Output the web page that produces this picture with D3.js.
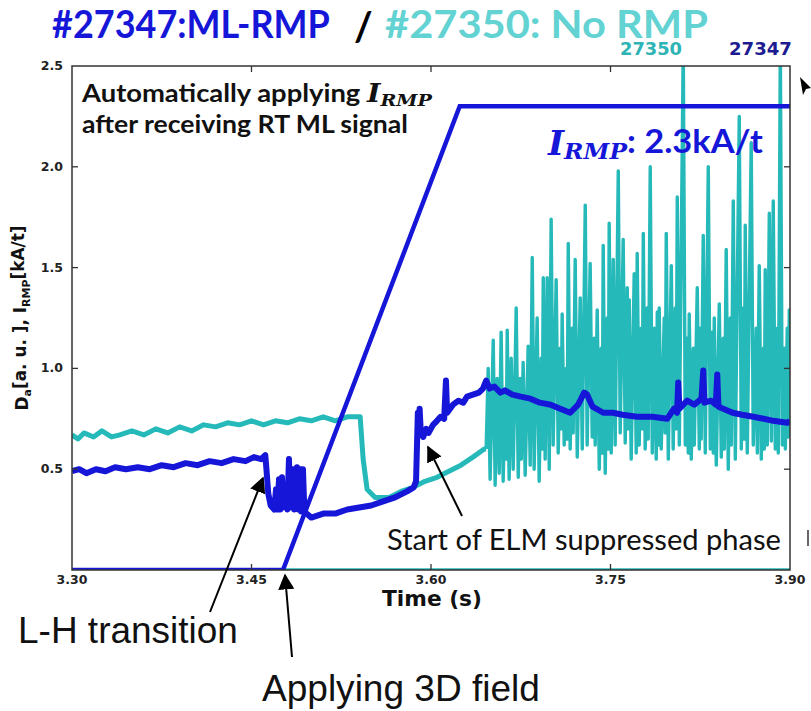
<!DOCTYPE html>
<html>
<head>
<meta charset="utf-8">
<script src="https://d3js.org/d3.v7.min.js"></script>
<style>
  body { margin: 0; background: #fff; }
  svg { display: block; }
</style>
</head>
<body>
<script>
// axis ticks
var xTicks = [3.30, 3.45, 3.60, 3.75, 3.90];
var yTicks = [0.5, 1.0, 1.5, 2.0, 2.5];

// #27347 (ML-RMP) D-alpha
var daBlue = [
  [3.300,0.49],[3.306,0.50],[3.312,0.48],[3.320,0.50],[3.328,0.49],[3.336,0.51],[3.345,0.50],
  [3.355,0.51],[3.365,0.50],[3.375,0.52],[3.385,0.51],[3.395,0.53],[3.405,0.52],[3.415,0.54],
  [3.425,0.53],[3.435,0.55],[3.445,0.54],[3.452,0.56],[3.458,0.55],[3.4615,0.57],[3.4625,0.50],
  [3.4640,0.38],[3.4660,0.32],[3.4690,0.30],[3.4705,0.40],[3.4715,0.30],[3.4730,0.45],[3.4740,0.30],
  [3.4755,0.46],[3.4765,0.31],[3.4790,0.34],[3.4800,0.30],[3.4813,0.55],[3.4825,0.31],[3.4847,0.50],
  [3.4857,0.30],[3.4880,0.51],[3.4890,0.30],[3.4905,0.50],[3.4915,0.29],[3.4930,0.50],[3.4942,0.29],
  [3.4960,0.28],[3.500,0.26],[3.510,0.28],[3.520,0.28],[3.530,0.30],[3.540,0.31],[3.550,0.32],
  [3.560,0.34],[3.570,0.36],[3.580,0.39],[3.5855,0.41],[3.5875,0.44],[3.5890,0.78],[3.5898,0.70],
  [3.5905,0.80],[3.5915,0.68],[3.5935,0.66],[3.596,0.70],[3.598,0.68],[3.6017,0.72],[3.605,0.74],
  [3.608,0.76],[3.611,0.75],[3.6125,0.94],[3.6135,0.78],[3.6184,0.82],[3.623,0.84],[3.627,0.83],
  [3.6301,0.86],[3.635,0.87],[3.640,0.88],[3.6434,0.90],[3.6461,0.94],[3.6490,0.90],[3.6530,0.91],
  [3.6580,0.88],[3.6620,0.89],[3.6680,0.87],[3.6750,0.86],[3.6830,0.85],[3.6910,0.83],[3.7000,0.82],
  [3.7080,0.80],[3.7163,0.78],[3.7230,0.82],[3.7280,0.88],[3.7305,0.87],[3.7350,0.81],[3.7439,0.78],
  [3.7520,0.78],[3.7600,0.77],[3.7723,0.76],[3.7850,0.76],[3.7974,0.75],[3.8030,0.80],[3.8056,0.78],
  [3.8066,0.93],[3.8076,0.80],[3.8141,0.84],[3.8200,0.82],[3.8260,0.85],[3.8275,0.99],[3.8285,0.83],
  [3.8340,0.84],[3.8380,0.82],[3.8392,0.97],[3.8402,0.81],[3.8442,0.80],[3.8520,0.78],[3.8600,0.77],
  [3.8693,0.76],[3.8780,0.75],[3.8860,0.74],[3.8977,0.73],[3.9000,0.74]
];

// #27347 RMP coil current
var irmpBlue = [[3.300,0.0],[3.4763,0.0],[3.6240,2.30],[3.900,2.30]];

// #27350 (no RMP) coil current
var irmpCyan = [[3.300,0.0],[3.900,0.0]];

// #27350 D-alpha, L-mode / quiet part
var daCyanLmode = [
  [3.300,0.67],[3.305,0.65],[3.310,0.68],[3.318,0.66],[3.325,0.69],[3.333,0.66],[3.340,0.67],
  [3.350,0.69],[3.360,0.67],[3.370,0.70],[3.380,0.68],[3.390,0.71],[3.400,0.69],[3.410,0.72],
  [3.420,0.71],[3.430,0.73],[3.440,0.72],[3.450,0.74],[3.460,0.72],[3.470,0.74],[3.480,0.73],
  [3.490,0.75],[3.500,0.74],[3.510,0.76],[3.520,0.74],[3.530,0.76],[3.5408,0.76],[3.5433,0.55],
  [3.5466,0.40],[3.5533,0.36],[3.565,0.36],[3.575,0.39],[3.585,0.41],[3.595,0.44],[3.605,0.46],
  [3.615,0.49],[3.625,0.52],[3.635,0.56],[3.6445,0.60],[3.6461,0.60]
];

// #27350 D-alpha, ELMy phase
var daCyanElm = [
  [3.6461,0.60],[3.6478,1.00],[3.6494,0.45],[3.6520,1.14],[3.6536,0.42],[3.6553,0.95],[3.6570,0.48],
  [3.6586,1.18],[3.6603,0.44],[3.6620,0.90],[3.6628,0.55],[3.6637,1.19],[3.6653,0.45],[3.6670,1.05],
  [3.6687,0.50],[3.6712,1.30],[3.6729,0.46],[3.6745,0.95],[3.6754,0.55],[3.6770,1.03],[3.6787,0.47],
  [3.6812,1.11],[3.6829,0.52],[3.6846,1.55],[3.6862,0.50],[3.6887,1.25],[3.6904,0.44],[3.6921,1.05],
  [3.6929,0.60],[3.6938,1.45],[3.6954,0.55],[3.6971,1.45],[3.6988,0.50],[3.7004,1.74],[3.7021,0.62],
  [3.7046,1.44],[3.7063,0.58],[3.7080,1.10],[3.7088,0.70],[3.7096,1.27],[3.7113,0.62],[3.7130,1.00],
  [3.7138,0.65],[3.7147,1.62],[3.7163,0.60],[3.7180,1.20],[3.7188,0.68],[3.7205,1.54],[3.7222,0.56],
  [3.7247,1.35],[3.7264,0.60],[3.7289,1.81],[3.7305,0.62],[3.7330,1.52],[3.7347,0.66],[3.7364,1.15],
  [3.7372,0.62],[3.7389,1.29],[3.7406,0.50],[3.7422,1.10],[3.7431,0.58],[3.7439,1.61],[3.7456,0.48],
  [3.7473,1.25],[3.7481,0.60],[3.7489,1.72],[3.7506,0.58],[3.7523,1.54],[3.7539,0.62],[3.7565,1.98],
  [3.7581,0.68],[3.7606,1.64],[3.7623,0.63],[3.7640,1.40],[3.7648,0.70],[3.7657,1.34],[3.7673,0.55],
  [3.7698,1.47],[3.7715,0.58],[3.7723,1.57],[3.7740,0.62],[3.7757,1.20],[3.7765,0.70],[3.7774,1.67],
  [3.7790,0.60],[3.7807,1.30],[3.7815,0.65],[3.7832,2.00],[3.7849,0.58],[3.7866,1.20],[3.7882,0.55],
  [3.7891,1.28],[3.7899,0.62],[3.7907,1.30],[3.7924,0.60],[3.7949,1.25],[3.7957,0.68],[3.7966,1.67],
  [3.7983,0.55],[3.8008,1.51],[3.8024,0.60],[3.8041,1.30],[3.8049,0.70],[3.8058,1.85],[3.8075,0.62],
  [3.8108,2.60],[3.8125,0.62],[3.8141,1.15],[3.8150,0.58],[3.8158,1.27],[3.8175,0.55],[3.8192,1.10],
  [3.8200,0.62],[3.8225,1.40],[3.8242,0.60],[3.8250,1.20],[3.8258,0.65],[3.8275,1.66],[3.8292,0.58],
  [3.8317,2.00],[3.8334,0.60],[3.8350,1.18],[3.8359,0.58],[3.8367,1.25],[3.8384,0.52],[3.8409,1.32],
  [3.8426,0.56],[3.8442,1.15],[3.8451,0.60],[3.8467,1.59],[3.8484,0.50],[3.8501,1.25],[3.8509,0.62],
  [3.8526,1.83],[3.8543,0.55],[3.8576,2.25],[3.8593,0.60],[3.8610,1.30],[3.8618,0.65],[3.8626,1.71],
  [3.8643,0.58],[3.8676,2.12],[3.8693,0.62],[3.8718,1.20],[3.8727,0.58],[3.8743,1.51],[3.8760,0.55],
  [3.8777,1.10],[3.8785,0.60],[3.8793,1.49],[3.8810,0.62],[3.8827,1.77],[3.8844,0.64],[3.8860,1.83],
  [3.8877,0.60],[3.8894,1.20],[3.8902,0.58],[3.8919,2.60],[3.8936,0.62],[3.8952,1.10],[3.8961,0.60],
  [3.8977,1.20],[3.8986,0.66],[3.8994,1.29],[3.9000,0.80]
];

var blue = "#1616d8", cyan = "#25b9b9";

var W = 811, H = 711;
var svg = d3.select("body").append("svg").attr("width", W).attr("height", H);

var pL = 72, pR = 790, pT = 66, pB = 570;
var x = d3.scaleLinear().domain([3.30, 3.90]).range([pL, pR]);
var y = d3.scaleLinear().domain([0, 2.5]).range([pB, pT]);

// shrink/grow a text node so it spans w pixels
function fit(t, w) {
  var fs = parseFloat(t.attr("font-size"));
  var l = t.node().getComputedTextLength();
  t.attr("font-size", fs * w / l);
  return t;
}
// keep the font height, squeeze horizontally to w pixels
function squeeze(t, px, py, w) {
  var l = t.node().getComputedTextLength();
  t.attr("transform", "translate(" + px + "," + py + ") scale(" + (w / l) + ",1)");
  return t;
}

svg.append("clipPath").attr("id", "plotClip")
  .append("rect").attr("x", pL).attr("y", pT).attr("width", pR - pL).attr("height", pB - pT);

var line = d3.line().x(function(d){ return x(d[0]); }).y(function(d){ return y(d[1]); });
var g = svg.append("g").attr("clip-path", "url(#plotClip)");

g.append("path").datum(irmpCyan).attr("d", line)
  .attr("fill", "none").attr("stroke", cyan).attr("stroke-width", 3.5);
g.append("path").datum(daCyanLmode).attr("d", line)
  .attr("fill", "none").attr("stroke", cyan).attr("stroke-width", 5).attr("stroke-linejoin", "round");
g.append("path").datum(daCyanElm).attr("d", line)
  .attr("fill", "none").attr("stroke", cyan).attr("stroke-width", 3.4).attr("stroke-linejoin", "round");
g.append("path").datum(irmpBlue).attr("d", line)
  .attr("fill", "none").attr("stroke", blue).attr("stroke-width", 4.5);
g.append("path").datum(daBlue).attr("d", line)
  .attr("fill", "none").attr("stroke", blue).attr("stroke-width", 6).attr("stroke-linejoin", "round");

// frame + inward ticks
svg.append("rect").attr("x", pL).attr("y", pT).attr("width", pR - pL).attr("height", pB - pT)
  .attr("fill", "none").attr("stroke", "#333").attr("stroke-width", 1.5);

xTicks.slice(1, -1).forEach(function(t){
  svg.append("line").attr("x1", x(t)).attr("x2", x(t)).attr("y1", pB).attr("y2", pB - 6).attr("stroke", "#333").attr("stroke-width", 1.3);
  svg.append("line").attr("x1", x(t)).attr("x2", x(t)).attr("y1", pT).attr("y2", pT + 6).attr("stroke", "#333").attr("stroke-width", 1.3);
});
yTicks.slice(0, -1).forEach(function(v){
  svg.append("line").attr("x1", pL).attr("x2", pL + 6).attr("y1", y(v)).attr("y2", y(v)).attr("stroke", "#333").attr("stroke-width", 1.3);
  svg.append("line").attr("x1", pR).attr("x2", pR - 6).attr("y1", y(v)).attr("y2", y(v)).attr("stroke", "#333").attr("stroke-width", 1.3);
});

svg.selectAll(".xl").data(xTicks).enter().append("text")
  .attr("x", function(d){ return x(d); }).attr("y", pB + 14)
  .attr("text-anchor", "middle").attr("font-family", "DejaVu Sans").attr("font-weight", "bold")
  .attr("font-size", 12.5).attr("fill", "#222")
  .text(function(d){ return d.toFixed(2); });
svg.selectAll(".yl").data(yTicks).enter().append("text")
  .attr("x", pL - 9).attr("y", function(d){ return y(d) + 4; })
  .attr("text-anchor", "end").attr("font-family", "DejaVu Sans").attr("font-weight", "bold")
  .attr("font-size", 12.5).attr("fill", "#222")
  .text(function(d){ return d.toFixed(1); });

// axis titles
fit(svg.append("text").attr("x", 432).attr("y", 606).attr("text-anchor", "middle")
  .attr("font-family", "DejaVu Sans").attr("font-weight", "bold").attr("font-size", 15).attr("fill", "#111")
  .text("Time (s)"), 100);

var yl = svg.append("text").attr("transform", "translate(28,318) rotate(-90)").attr("text-anchor", "middle")
  .attr("font-family", "DejaVu Sans").attr("font-weight", "bold").attr("font-size", 14).attr("fill", "#111");
yl.append("tspan").text("D");
yl.append("tspan").attr("dy", "0.3em").style("font-size", "0.65em").text("a");
yl.append("tspan").attr("dy", "-0.3em").text("[a. u. ], I");
yl.append("tspan").attr("dy", "0.3em").style("font-size", "0.65em").text("RMP");
yl.append("tspan").attr("dy", "-0.3em").text("[kA/t]");
fit(yl, 185);

// title (tall glyphs squeezed to the measured width)
squeeze(svg.append("text").attr("font-family", "Lato").attr("font-weight", "bold")
  .attr("font-size", 38.5).attr("fill", blue).text("#27347:ML-RMP"), 52, 37.5, 278);
svg.append("text").attr("x", 354).attr("y", 41).attr("font-family", "Lato").attr("font-weight", "bold")
  .attr("font-size", 40).attr("fill", "#000").text("/");
squeeze(svg.append("text").attr("font-family", "Lato").attr("font-weight", "bold")
  .attr("font-size", 38.5).attr("fill", "#62d2d2").text("#27350: No RMP"), 385, 37.5, 323);

// shot labels
fit(svg.append("text").attr("x", 620).attr("y", 55).attr("font-family", "DejaVu Sans").attr("font-weight", "bold")
  .attr("font-size", 15).attr("fill", "#2eb4b4").text("27350"), 62);
fit(svg.append("text").attr("x", 729).attr("y", 55).attr("font-family", "DejaVu Sans").attr("font-weight", "bold")
  .attr("font-size", 15).attr("fill", "#1c1c90").text("27347"), 63);

// in-plot notes
var n1 = svg.append("text").attr("font-family", "Lato").attr("font-weight", "bold")
  .attr("font-size", 24).attr("fill", "#111");
n1.append("tspan").text("Automatically applying ");
n1.append("tspan").attr("font-family", "DejaVu Serif").attr("font-style", "italic").style("font-size", "1.05em").text("I");
n1.append("tspan").attr("dy", "0.25em").attr("font-family", "DejaVu Serif").attr("font-style", "italic").style("font-size", "0.7em").text("RMP");
squeeze(n1, 82, 102, 350);
squeeze(svg.append("text").attr("font-family", "Lato").attr("font-weight", "bold")
  .attr("font-size", 24).attr("fill", "#111").text("after receiving RT ML signal"), 82, 133, 326);

var n2 = svg.append("text").attr("font-family", "Lato").attr("font-weight", "bold")
  .attr("font-size", 33).attr("fill", blue);
n2.append("tspan").attr("font-family", "DejaVu Serif").attr("font-style", "italic").style("font-size", "1.0em").text("I");
n2.append("tspan").attr("dy", "0.2em").attr("font-family", "DejaVu Serif").attr("font-style", "italic").style("font-size", "0.68em").text("RMP");
n2.append("tspan").attr("dy", "-0.2em").text(": 2.3kA/t");
squeeze(n2, 548, 155, 215);

squeeze(svg.append("text").attr("font-family", "Lato")
  .attr("font-size", 28).attr("fill", "#111").text("Start of ELM suppressed phase"), 387, 550, 394);

fit(svg.append("text").attr("x", 18).attr("y", 643).attr("font-family", "Liberation Sans")
  .attr("font-size", 36).attr("fill", "#111").text("L-H transition"), 220);
fit(svg.append("text").attr("x", 262).attr("y", 701).attr("font-family", "Liberation Sans")
  .attr("font-size", 36).attr("fill", "#111").text("Applying 3D field"), 278);

// arrows
svg.append("defs").append("marker").attr("id", "ah").attr("viewBox", "0 0 10 10")
  .attr("refX", 9).attr("refY", 5).attr("markerWidth", 16).attr("markerHeight", 16)
  .attr("markerUnits", "userSpaceOnUse").attr("orient", "auto")
  .append("path").attr("d", "M0,0 L10,5 L0,10 Z").attr("fill", "#000");

[[210, 612, 263, 478], [292, 657, 285, 575], [462, 516, 428, 447]].forEach(function(a){
  svg.append("line").attr("x1", a[0]).attr("y1", a[1]).attr("x2", a[2]).attr("y2", a[3])
    .attr("stroke", "#000").attr("stroke-width", 2).attr("marker-end", "url(#ah)");
});

// stray cursor glyph at right edge
svg.append("path").attr("d", "M800,77 L811,88 L806,89 L803,95 Z").attr("fill", "#000");
svg.append("line").attr("x1", 808).attr("x2", 808).attr("y1", 530).attr("y2", 546).attr("stroke", "#333").attr("stroke-width", 1.5);
</script>
</body>
</html>
